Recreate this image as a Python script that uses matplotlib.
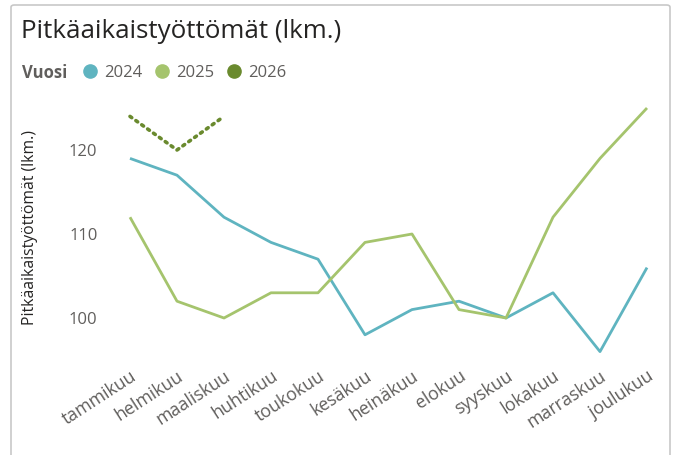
import matplotlib
matplotlib.use("Agg")
import matplotlib.pyplot as plt
import matplotlib.transforms as mtransforms
from matplotlib.patches import FancyBboxPatch
from matplotlib.lines import Line2D

plt.rcParams['font.family'] = ['Open Sans', 'DejaVu Sans']

months = ["tammikuu", "helmikuu", "maaliskuu", "huhtikuu", "toukokuu", "kesäkuu",
          "heinäkuu", "elokuu", "syyskuu", "lokakuu", "marraskuu", "joulukuu"]
v2024 = [119, 117, 112, 109, 107, 98, 101, 102, 100, 103, 96, 106]
v2025 = [112, 102, 100, 103, 103, 109, 110, 101, 100, 112, 119, 125]
v2026 = [124, 120, 124]
years = ["2024", "2025", "2026"]
yticks = [100, 110, 120]

c2024 = "#5FB4C0"
c2025 = "#A5C46D"
c2026 = "#6A8A2E"
colors = [c2024, c2025, c2026]
txt = "#252423"
gray = "#605E5C"

W, H = 678, 455
fig = plt.figure(figsize=(W / 100, H / 100), dpi=100)

# frame of the visual
frame = FancyBboxPatch((11 / W, -0.05), (670 - 11) / W, (H - 5) / H + 0.05,
                       boxstyle="round,pad=0,rounding_size=0.005",
                       transform=fig.transFigure, fill=False,
                       edgecolor="#C8C8C8", linewidth=1.2)
fig.patches.append(frame)

ax = fig.add_axes([106.5 / W, 1 - 360 / H, 564 / W, (360 - 99.6) / H])
x = list(range(len(months)))
ax.plot(x, v2024, color=c2024, linewidth=2.0, solid_capstyle='butt')
ax.plot(x, v2025, color=c2025, linewidth=2.0, solid_capstyle='butt')
ax.plot(x[:len(v2026)], v2026, color=c2026, linewidth=2.6, linestyle=(0, (0.6, 1.4)),
        dash_capstyle='round')

ax.set_xlim(-0.5, 11.5)
ax.set_ylim(95, 126)
ax.set_yticks(yticks)
ax.set_xticks(x)
ax.set_xticklabels(months, rotation=33, ha='right', va='top', rotation_mode='anchor')
offset = mtransforms.ScaledTranslation(-8 / 100, 0, fig.dpi_scale_trans)
for lab in ax.get_xticklabels():
    lab.set_transform(lab.get_transform() + offset)
for s in ax.spines.values():
    s.set_visible(False)
ax.tick_params(axis='both', length=0, labelcolor=gray)
ax.tick_params(axis='y', pad=6.5, labelsize=12)
ax.tick_params(axis='x', pad=5, labelsize=12.8)
ax.set_ylabel("Pitkäaikaistyöttömät (lkm.)", fontsize=11.3, color=txt)
ax.yaxis.label.set_va('center')
ax.yaxis.set_label_coords((30 - 106.5) / 564, (360 - 228) / (360 - 99.6))

fig.text(21 / W, 1 - 38 / H, "Pitkäaikaistyöttömät (lkm.)", fontsize=18.7, color=txt,
         va='baseline', ha='left')

# legend
handles = [Line2D([], [], marker='o', linestyle='none', markersize=9.5, color=c)
           for c in colors]
leg = fig.legend(handles, years, loc='center left',
                 bbox_to_anchor=(83 / W, 1 - 73 / H), ncol=3, frameon=False,
                 fontsize=12, handletextpad=0.45, columnspacing=0.8,
                 handlelength=0.8, borderpad=0, borderaxespad=0)
for t in leg.get_texts():
    t.set_color(gray)
fig.text(22 / W, 1 - 73 / H, "Vuosi", fontsize=12, fontweight='bold', color=gray,
         va='center', ha='left')

fig.savefig("out.png", dpi=100)
